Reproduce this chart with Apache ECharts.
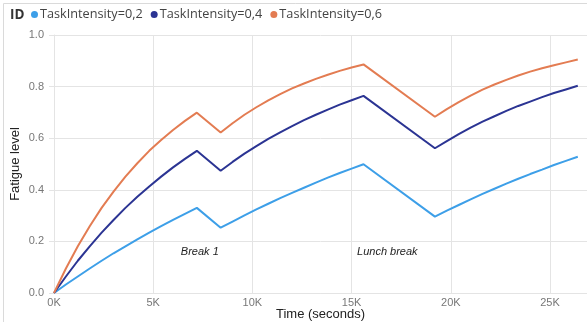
<!DOCTYPE html>
<html>
<head>
<meta charset="utf-8">
<script src="https://cdn.jsdelivr.net/npm/echarts@6/dist/echarts.min.js"></script>
<style>
  html, body { margin: 0; padding: 0; background: #fff; }
  #chart { width: 587px; height: 322px; }
</style>
</head>
<body>
<div id="chart"></div>
<script>
// Time axis (seconds): work 0–7200, break to 8400, work to 15600, lunch to 19200, work to 26400
const times = [
  0, 600, 1200, 1800, 2400, 3000, 3600, 4200, 4800, 5400, 6000, 6600, 7200,
  8400,
  9000, 9600, 10200, 10800, 11400, 12000, 12600, 13200, 13800, 14400, 15000, 15600,
  19200,
  19800, 20400, 21000, 21600, 22200, 22800, 23400, 24000, 24600, 25200, 25800, 26400
];

const seriesNames = ['TaskIntensity=0,2', 'TaskIntensity=0,4', 'TaskIntensity=0,6'];

const fatigue02 = [
  0, 0.033, 0.064, 0.095, 0.125, 0.154, 0.181, 0.208, 0.234, 0.259, 0.283, 0.307, 0.330,
  0.253,
  0.277, 0.301, 0.324, 0.346, 0.368, 0.388, 0.408, 0.428, 0.447, 0.465, 0.482, 0.499,
  0.296,
  0.319, 0.341, 0.363, 0.384, 0.404, 0.424, 0.443, 0.461, 0.478, 0.496, 0.512, 0.528
];

const fatigue04 = [
  0, 0.064, 0.125, 0.181, 0.234, 0.283, 0.330, 0.373, 0.413, 0.451, 0.487, 0.520, 0.551,
  0.474,
  0.508, 0.540, 0.569, 0.597, 0.623, 0.647, 0.670, 0.691, 0.711, 0.730, 0.747, 0.764,
  0.561,
  0.589, 0.616, 0.641, 0.664, 0.685, 0.706, 0.725, 0.742, 0.759, 0.775, 0.789, 0.803
];

const fatigue06 = [
  0, 0.095, 0.181, 0.259, 0.330, 0.393, 0.451, 0.503, 0.551, 0.593, 0.632, 0.667, 0.699,
  0.622,
  0.658, 0.691, 0.720, 0.747, 0.771, 0.793, 0.812, 0.830, 0.846, 0.861, 0.874, 0.886,
  0.683,
  0.713, 0.740, 0.765, 0.788, 0.808, 0.826, 0.843, 0.858, 0.871, 0.883, 0.894, 0.905
];

const yTicks = [0, 0.2, 0.4, 0.6, 0.8, 1.0];

// Period annotations placed in data space
const notes = [
  { name: 'Break 1', time: 7350, level: 0.16 },
  { name: 'Lunch break', time: 16800, level: 0.16 }
];

const colors = ['#3d9fe8', '#2b3493', '#e37c52'];
const LEGEND_FONT = '"Open Sans", "Noto Sans", sans-serif';
const AXIS_FONT = '"Liberation Sans", Arial, sans-serif';
const GRID_COLOR = '#e4e4e4';

const toPairs = vals => times.map((t, i) => [t, vals[i]]);

const chart = echarts.init(document.getElementById('chart'), null, { renderer: 'canvas' });

const makeSeries = (name, vals, color, extra) => Object.assign({
  name: name,
  type: 'line',
  data: toPairs(vals),
  showSymbol: false,
  symbol: 'circle',
  lineStyle: { width: 2, color: color },
  itemStyle: { color: color },
  animation: false,
  z: 3
}, extra || {});

chart.setOption({
  animation: false,
  textStyle: { fontFamily: AXIS_FONT },
  title: {
    text: 'ID',
    left: 10,
    top: 8,
    padding: 0,
    textStyle: { fontSize: 13.5, fontWeight: 'bold', color: '#333', fontFamily: LEGEND_FONT }
  },
  legend: {
    data: seriesNames,
    left: 31,
    top: 8,
    icon: 'circle',
    itemWidth: 7,
    itemHeight: 7,
    itemGap: 8,
    padding: 0,
    textStyle: { fontSize: 12.7, color: '#444', fontFamily: LEGEND_FONT, padding: [0, 0, 0, -3] }
  },
  graphic: [
    { type: 'line', shape: { x1: 3.5, y1: 3.5, x2: 3.5, y2: 322 }, style: { stroke: '#dadada', lineWidth: 1 } },
    { type: 'line', shape: { x1: 3.5, y1: 3.5, x2: 587, y2: 3.5 }, style: { stroke: '#dadada', lineWidth: 1 } }
  ],
  grid: {
    left: 54, top: 35, right: 0, bottom: 29,
    containLabel: false,
    outerBoundsMode: 'none'
  },
  xAxis: {
    type: 'value',
    min: 0,
    max: 26865,
    interval: 5000,
    name: 'Time (seconds)',
    nameLocation: 'middle',
    nameGap: 15,
    nameMoveOverlap: false,
    nameTextStyle: { fontSize: 13, color: '#222', fontFamily: AXIS_FONT },
    axisLine: { show: true, lineStyle: { color: GRID_COLOR } },
    axisTick: { show: false },
    axisLabel: {
      fontSize: 11,
      color: '#777',
      margin: 4,
      showMaxLabel: false,
      formatter: v => (v / 1000) + 'K'
    },
    splitLine: { show: true, lineStyle: { color: GRID_COLOR, width: 1 } }
  },
  yAxis: {
    type: 'value',
    min: yTicks[0],
    max: yTicks[yTicks.length - 1],
    interval: 0.2,
    name: 'Fatigue level',
    nameLocation: 'middle',
    nameGap: 32,
    nameMoveOverlap: false,
    nameTextStyle: { fontSize: 13, color: '#222', fontFamily: AXIS_FONT },
    axisLine: { show: true, lineStyle: { color: GRID_COLOR } },
    axisTick: { show: true, length: 5, lineStyle: { color: GRID_COLOR } },
    axisLabel: {
      fontSize: 11,
      color: '#777',
      margin: 10,
      formatter: v => v.toFixed(1)
    },
    splitLine: { show: true, lineStyle: { color: GRID_COLOR, width: 1 } }
  },
  series: [
    makeSeries(seriesNames[0], fatigue02, colors[0], {
      markPoint: {
        symbol: 'circle',
        symbolSize: 0,
        silent: true,
        label: {
          show: true,
          position: 'inside',
          color: '#222',
          fontSize: 11,
          fontStyle: 'italic',
          fontFamily: AXIS_FONT,
          formatter: p => p.name
        },
        data: notes.map(n => ({ name: n.name, coord: [n.time, n.level] }))
      }
    }),
    makeSeries(seriesNames[1], fatigue04, colors[1]),
    makeSeries(seriesNames[2], fatigue06, colors[2])
  ]
});
</script>
</body>
</html>
